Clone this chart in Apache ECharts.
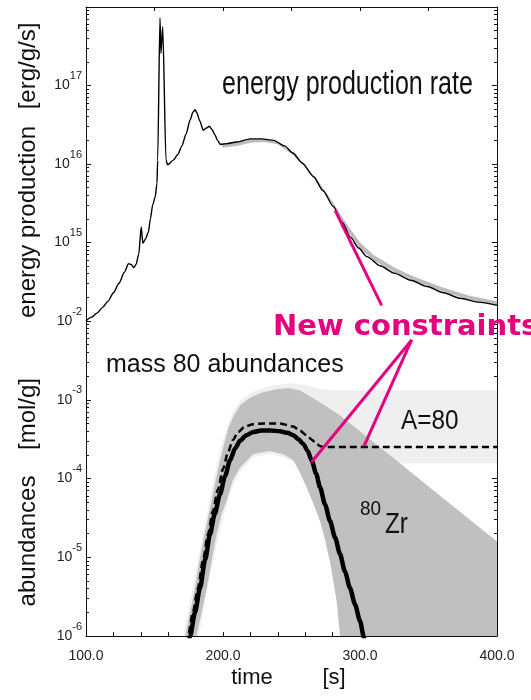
<!DOCTYPE html>
<html><head><meta charset="utf-8">
<script src="https://cdn.jsdelivr.net/npm/echarts@6/dist/echarts.min.js"></script>
<style>html,body{margin:0;padding:0;background:#fff}#c{width:531px;height:700px}</style>
</head><body><div id="c"></div>
<script>
// ---------- data ----------
const energyTime = [100,104,108,112,116,120,124,128,131,133,135,136.5,138.5,140.3,141.5,143.5,145.5,147,148.7,150.5,151.8,152.3,154.0,154.7,156.0,158.4,159.6,163.7,167,170,173,176,178,179.6,181,183,185.6,188,190,192,194.2,196,198,203,210,220,228,237,245,251,258,266,273,280.5,287,293,299,305,315,325,337,349,361,373,386,400];
const energyValue = [1.0e14,1.12e14,1.26e14,1.48e14,1.78e14,2.29e14,3.0e14,4.17e14,5.37e14,5.25e14,4.79e14,5.25e14,7.08e14,1.58e15,9.77e14,1.12e15,1.35e15,2.0e15,3.02e15,3.8e15,5.62e15,1.12e16,7.24e17,2.57e17,5.62e17,1.12e16,9.77e15,1.12e16,1.32e16,1.70e16,2.40e16,3.63e16,4.57e16,4.9e16,4.47e16,3.55e16,2.69e16,2.88e16,3.02e16,2.75e16,2.34e16,2.0e16,1.78e16,1.82e16,1.91e16,2.09e16,2.09e16,2.0e16,1.70e16,1.38e16,1.02e16,6.92e15,4.57e15,2.88e15,1.82e15,1.17e15,8.51e14,6.61e14,5.01e14,4.07e14,3.31e14,2.75e14,2.29e14,1.95e14,1.74e14,1.58e14];

const energyBandTime = [197,200,210,220,230,240,250,260,270,280,290,300,310,325,340,360,380,400];
const energyBandLow  = [1.86e16,1.62e16,1.70e16,1.86e16,1.91e16,1.78e16,1.35e16,9.12e15,5.50e15,3.02e15,1.48e15,8.32e14,5.89e14,4.17e14,3.24e14,2.40e14,1.86e14,1.58e14];
const energyBandHigh = [1.86e16,1.80e16,1.91e16,2.09e16,2.09e16,1.91e16,1.45e16,9.66e15,5.89e15,3.31e15,1.74e15,1.0e15,6.92e14,4.79e14,3.63e14,2.69e14,2.09e14,1.78e14];

const zrTime  = [175,176.0,179.6,183.2,187.0,190.5,194.0,197.8,201.5,205.1,208.8,212.4,217,222.1,228,234.3,241.6,247,251.3,255,258.6,261.8,264.7,268,270.8,274.5,278.1,281.8,285.4,289,292.7,296.4,300,302.9,304];
const zrValue = [8.0e-7,1.0e-6,2.0e-6,4.07e-6,9.33e-6,1.95e-5,3.55e-5,6.31e-5,1.07e-4,1.70e-4,2.40e-4,3.02e-4,3.55e-4,3.89e-4,4.07e-4,4.07e-4,3.98e-4,3.80e-4,3.55e-4,3.16e-4,2.75e-4,2.24e-4,1.70e-4,1.15e-4,7.76e-5,4.68e-5,2.88e-5,1.78e-5,1.10e-5,6.61e-6,4.07e-6,2.51e-6,1.55e-6,9.55e-7,8.0e-7];

const a80Time  = [173.5,174.5,178,181.7,185.5,189,192.5,196.3,200,203.6,207.3,211,216,222,230,241.6,251.3,256,261,265,268.3,271,274,290,320,360,400];
const a80Value = [8.0e-7,1.0e-6,2.0e-6,4.07e-6,9.33e-6,1.95e-5,3.80e-5,7.24e-5,1.32e-4,2.14e-4,3.09e-4,3.89e-4,4.57e-4,4.90e-4,5.01e-4,5.01e-4,4.57e-4,4.07e-4,3.55e-4,3.09e-4,2.75e-4,2.57e-4,2.51e-4,2.51e-4,2.51e-4,2.51e-4,2.51e-4];

const zrBandUpperTime  = [172.5,176,179.5,183,186.5,190,193.5,197,200.5,204,208,213,220,228,238,248,256,265,275,285.4,300,320,340,360,380,400];
const zrBandUpperValue = [1.0e-6,2.0e-6,4.07e-6,9.33e-6,1.95e-5,3.80e-5,7.59e-5,1.45e-4,2.63e-4,4.37e-4,6.31e-4,8.71e-4,1.07e-3,1.23e-3,1.35e-3,1.41e-3,1.32e-3,1.07e-3,8.32e-4,6.31e-4,3.98e-4,2.09e-4,1.10e-4,5.75e-5,3.02e-5,1.58e-5];
const zrBandLowerTime  = [400,285.4,283,280.5,278,274.5,270.8,266,261,256,251.3,245,234.3,222.1,212.4,207,202.7,199,195.4,191.7,188.1,184.5,180.5];
const zrBandLowerValue = [1e-6,1e-6,2.75e-6,5.01e-6,8.91e-6,1.66e-5,2.88e-5,4.79e-5,7.76e-5,1.20e-4,1.70e-4,2.00e-4,2.24e-4,2.04e-4,1.38e-4,9.33e-5,5.25e-5,3.55e-5,2.00e-5,8.91e-6,4.07e-6,2.00e-6,1e-6];

const a80BandUpperTime  = [171,175,180,185,190,195,200,206,213,222,235,248,260,270,280,400];
const a80BandUpperValue = [1e-6,2.24e-6,6.31e-6,1.78e-5,5.01e-5,1.41e-4,3.16e-4,6.31e-4,1.0e-3,1.26e-3,1.51e-3,1.62e-3,1.55e-3,1.38e-3,1.32e-3,1.32e-3];
const a80BandLowerTime  = [400,253,245,234,222,212,206,201,196,191.5,187.5,182.5];
const a80BandLowerValue = [1.55e-4,1.55e-4,1.86e-4,2.04e-4,1.86e-4,1.20e-4,7.08e-5,3.55e-5,1.58e-5,7.08e-6,3.16e-6,1e-6];

// annotation pointers ("New constraints")
const pointerTop    = [[281.8, 2.57e15], [315.8, 1.58e14]];
const pointerBottom = [[[337.7, 5.75e-3], [264.7, 1.62e-4]], [[337.7, 5.75e-3], [302.9, 2.57e-4]]];

// tick labels
const xTickValues = [100, 200, 300, 400];
const xTickLabels = ['100.0', '200.0', '300.0', '400.0'];
const topExponents = [15, 16, 17];
const bottomExponents = [-6, -5, -4, -3, -2];

// ---------- chart ----------
const chart = echarts.init(document.getElementById('c'), null, {renderer: 'canvas'});
const SANS = "'Liberation Sans', Arial, sans-serif";
const INK = '#111';
const MAG = '#e4007f';

function zip(a, b) { return a.map((t, i) => [t, b[i]]); }
function minorTicks(lo, hi) {
  const out = [];
  for (let n = lo; n < hi; n++) for (let k = 2; k <= 9; k++) out.push(n + Math.log10(k));
  return out;
}
function expLabel(list) {
  return function (v) {
    const e = Math.round(Math.log10(v));
    return list.indexOf(e) >= 0 ? '{b|10}{s|' + e + '}' : '';
  };
}
const labelRich = {
  b: {fontSize: 14, fontFamily: SANS, color: '#222', lineHeight: 30},
  s: {fontSize: 11, fontFamily: SANS, color: '#222', verticalAlign: 'top', lineHeight: 12}
};

function logAxis(grid, min, max, pos, labels) {
  return {
    type: 'log', logBase: 10, gridIndex: grid, min: min, max: max, position: pos,
    axisLine: {show: true, lineStyle: {color: INK, width: 1}},
    axisTick: {show: true, inside: true, length: 5, lineStyle: {color: INK}},
    axisLabel: labels ? {show: true, margin: 4, formatter: expLabel(labels), rich: labelRich} : {show: false},
    splitLine: {show: false}, minorTick: {show: false}
  };
}
function minorAxis(grid, lo, hi, pos) {
  return {
    type: 'value', gridIndex: grid, min: lo, max: hi, position: pos,
    axisLine: {show: false},
    axisTick: {show: true, inside: true, length: 3, lineStyle: {color: INK}, customValues: minorTicks(lo, hi)},
    axisLabel: {show: false}, splitLine: {show: false}
  };
}
function band(name, xi, yi, upT, upV, loT, loV, color, z) {
  const pts = zip(upT, upV).concat(zip(loT, loV));
  return {
    type: 'custom', name: name, xAxisIndex: xi, yAxisIndex: yi, z: z, clip: true, silent: true,
    data: pts, encode: {x: 0, y: 1},
    renderItem: function (params, api) {
      if (params.dataIndex !== 0) return null;
      return {type: 'polygon', shape: {points: pts.map(p => api.coord(p))},
              style: {fill: color, stroke: null}};
    }
  };
}
function txt(text, x, y, size, family, o) {
  o = o || {};
  return {
    type: 'text', x: x, y: y, rotation: o.rot || 0, scaleX: o.sx || 1, scaleY: 1, z: 100, silent: true,
    style: {
      text: text, font: (o.weight || 'normal') + ' ' + size + 'px ' + family,
      fill: o.color || INK,
      textAlign: o.align || 'left', textVerticalAlign: 'middle',
      align: o.align || 'left', verticalAlign: 'middle'
    }
  };
}

const option = {
  animation: false,
  backgroundColor: '#fff',
  grid: [
    {left: 86, top: 7, width: 411, height: 314, outerBoundsMode: 'none', containLabel: false},
    {left: 86, top: 321, width: 411, height: 315, outerBoundsMode: 'none', containLabel: false}
  ],
  xAxis: [
    {type: 'value', gridIndex: 0, min: 100, max: 400, interval: 50, position: 'top',
     axisLine: {show: true, lineStyle: {color: INK}}, axisTick: {show: true, inside: true, length: 4, lineStyle: {color: INK}},
     axisLabel: {show: false}, splitLine: {show: false}},
    {type: 'value', gridIndex: 1, min: 100, max: 400, interval: 20, position: 'bottom',
     axisLine: {show: true, lineStyle: {color: INK}}, axisTick: {show: true, inside: true, length: 4, lineStyle: {color: INK}},
     axisLabel: {show: true, margin: 13, fontSize: 14, fontFamily: SANS, color: '#222',
                 formatter: v => { const i = xTickValues.indexOf(Math.round(v)); return i >= 0 ? xTickLabels[i] : ''; }},
     splitLine: {show: false}}
  ],
  yAxis: [
    logAxis(0, 1e14, 1e18, 'left', topExponents),   // 0
    minorAxis(0, 14, 18, 'left'),                    // 1
    logAxis(0, 1e14, 1e18, 'right', null),           // 2
    minorAxis(0, 14, 18, 'right'),                   // 3
    logAxis(1, 1e-6, 1e-2, 'left', bottomExponents), // 4
    minorAxis(1, -6, -2, 'left'),                    // 5
    logAxis(1, 1e-6, 1e-2, 'right', null),           // 6
    minorAxis(1, -6, -2, 'right')                    // 7
  ],
  series: [
    band('energy band', 0, 0, energyBandTime, energyBandHigh, energyBandTime.slice().reverse(), energyBandLow.slice().reverse(), '#bcbcbc', 1),
    {type: 'line', name: 'energy', xAxisIndex: 0, yAxisIndex: 0, z: 3, data: zip(energyTime, energyValue),
     showSymbol: false, smooth: 0.25, smoothMonotone: 'x', lineStyle: {color: '#000', width: 1.4},
     markLine: {silent: true, symbol: ['none', 'none'], animation: false, label: {show: false},
                lineStyle: {color: MAG, width: 3, type: 'solid'},
                data: [[{coord: pointerTop[0]}, {coord: pointerTop[1]}]]}},
    band('A=80 band', 1, 4, a80BandUpperTime, a80BandUpperValue, a80BandLowerTime, a80BandLowerValue, '#efefef', 1),
    band('80Zr band', 1, 4, zrBandUpperTime, zrBandUpperValue, zrBandLowerTime, zrBandLowerValue, '#c0c0c0', 2),
    {type: 'line', name: 'A=80', xAxisIndex: 1, yAxisIndex: 4, z: 3, data: zip(a80Time, a80Value),
     showSymbol: false, smooth: 0.25, smoothMonotone: 'x', lineStyle: {color: '#000', width: 2.5, type: [7, 4]}},
    {type: 'line', name: '80Zr', xAxisIndex: 1, yAxisIndex: 4, z: 4, data: zip(zrTime, zrValue),
     showSymbol: false, smooth: 0.25, smoothMonotone: 'x', lineStyle: {color: '#000', width: 4.5},
     markLine: {silent: true, symbol: ['none', 'none'], animation: false, label: {show: false},
                lineStyle: {color: MAG, width: 3, type: 'solid'},
                data: pointerBottom.map(seg => [{coord: seg[0]}, {coord: seg[1]}])}}
  ],
  graphic: [
    txt('energy production rate', 222, 85, 33, SANS, {sx: 0.76}),
    txt('New constraints', 273, 327, 29, "'DejaVu Sans', sans-serif", {weight: 'bold', color: MAG}),
    txt('mass 80 abundances', 106, 365, 25, SANS),
    txt('A=80', 401, 422, 27, SANS, {sx: 0.9}),
    txt('80', 360, 509, 21, SANS, {sx: 0.9}),
    txt('Zr', 385, 525, 30, SANS, {sx: 0.81}),
    txt('time', 252, 678, 22, SANS, {align: 'center'}),
    txt('[s]', 334, 678, 22, SANS, {align: 'center'}),
    txt('[erg/g/s]', 28, 66, 24, SANS, {align: 'center', rot: Math.PI / 2}),
    txt('energy production', 28, 222, 24, SANS, {align: 'center', rot: Math.PI / 2}),
    txt('[mol/g]', 28, 414, 24, SANS, {align: 'center', rot: Math.PI / 2}),
    txt('abundances', 28, 541, 24, SANS, {align: 'center', rot: Math.PI / 2})
  ]
};
chart.setOption(option);
</script>
</body></html>
